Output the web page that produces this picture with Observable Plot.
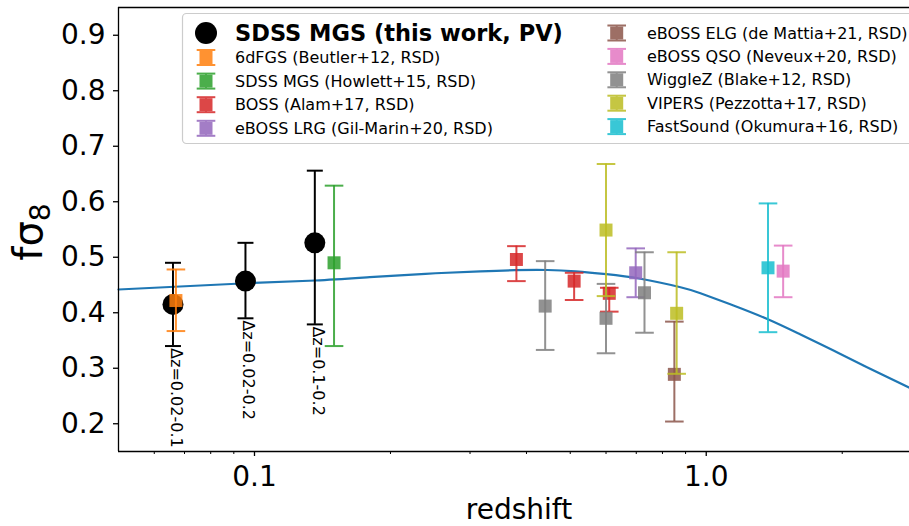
<!DOCTYPE html>
<html>
<head>
<meta charset="utf-8">
<script src="https://cdn.jsdelivr.net/npm/d3@7"></script>
<script src="https://cdn.jsdelivr.net/npm/@observablehq/plot@0.6"></script>
<style>
  html, body { margin: 0; padding: 0; background: #fff; }
  #chart { width: 909px; height: 526px; overflow: hidden; }
  svg { font-family: "DejaVu Sans", sans-serif; }
</style>
</head>
<body>
<div id="chart"></div>
<script>
// fσ8 from SDSS MGS peculiar velocities, three redshift bins
const pvZ = [0.066, 0.0955, 0.136];
const pvF = [0.415, 0.457, 0.526];
const pvLo = [0.340, 0.390, 0.379];
const pvHi = [0.490, 0.526, 0.656];
const pvLabels = ["Δz=0.02-0.1", "Δz=0.02-0.2", "Δz=0.1-0.2"];

// RSD compilation
const rsdSurvey = ["6dFGS", "SDSS MGS", "BOSS", "BOSS", "BOSS", "eBOSS LRG", "eBOSS ELG", "eBOSS QSO",
                   "WiggleZ", "WiggleZ", "WiggleZ", "VIPERS", "VIPERS", "FastSound"];
const rsdZ  = [0.067, 0.15, 0.38, 0.51, 0.61, 0.698, 0.85, 1.48, 0.44, 0.60, 0.73, 0.60, 0.86, 1.37];
const rsdF  = [0.422, 0.490, 0.496, 0.457, 0.435, 0.472, 0.289, 0.475, 0.412, 0.390, 0.436, 0.549, 0.399, 0.481];
const rsdLo = [0.367, 0.340, 0.457, 0.423, 0.402, 0.428, 0.204, 0.428, 0.333, 0.327, 0.364, 0.430, 0.290, 0.365];
const rsdHi = [0.478, 0.629, 0.520, 0.472, 0.445, 0.516, 0.384, 0.521, 0.493, 0.452, 0.509, 0.668, 0.509, 0.597];

// legend entries, in drawing order
const surveys = ["6dFGS", "SDSS MGS", "BOSS", "eBOSS LRG", "eBOSS ELG", "eBOSS QSO", "WiggleZ", "VIPERS", "FastSound"];
const surveyRefs = ["Beutler+12", "Howlett+15", "Alam+17", "Gil-Marin+20", "de Mattia+21", "Neveux+20", "Blake+12", "Pezzotta+17", "Okumura+16"];
const surveyColors = ["#ff7f0e", "#2ca02c", "#d62728", "#9467bd", "#8c564b", "#e377c2", "#7f7f7f", "#bcbd22", "#17becf"];
const pvLegend = "SDSS MGS (this work, PV)";

// fiducial ΛCDM prediction
const modelZ = [0.05, 0.096, 0.1365, 0.18, 0.239, 0.316, 0.377, 0.445, 0.514, 0.601, 0.715, 0.877, 0.971, 1.149, 1.373, 1.617, 1.913, 2.275, 2.818];
const modelF = [0.4419, 0.4532, 0.4581, 0.4641, 0.4702, 0.4747, 0.4767, 0.4770, 0.4746, 0.4695, 0.4612, 0.4460, 0.4352, 0.4131, 0.3878, 0.3608, 0.3320, 0.3014, 0.2648];

// axes
const xDomain = [0.05, 2.818];
const yDomain = [0.15, 0.95];
const xMajor = [0.1, 1];
const xMajorLabels = ["0.1", "1.0"];
const xMinor = [0.06, 0.07, 0.08, 0.09, 0.2, 0.3, 0.4, 0.5, 0.6, 0.7, 0.8, 0.9, 2];
const yTicks = [0.2, 0.3, 0.4, 0.5, 0.6, 0.7, 0.8, 0.9];
const yTickLabels = ["0.2", "0.3", "0.4", "0.5", "0.6", "0.7", "0.8", "0.9"];

const pv = pvZ.map((z, i) => ({z, f: pvF[i], lo: pvLo[i], hi: pvHi[i], label: pvLabels[i]}));
const rsd = rsdZ.map((z, i) => ({z, f: rsdF[i], lo: rsdLo[i], hi: rsdHi[i], survey: rsdSurvey[i]}));
const model = modelZ.map((z, i) => ({z, f: modelF[i]}));
const xLabelRows = xMajor.map((z, i) => ({z, label: xMajorLabels[i]}));

// horizontal error-bar cap drawn as a dot symbol; half-width equals r
const cap = {draw(ctx, size) { const w = Math.sqrt(size / Math.PI); ctx.moveTo(-w, 0); ctx.lineTo(w, 0); }};
const alpha = 0.85;

function errorMarks(rows, color, opts) {
  const {capR, lw, symbol, r, op} = opts;
  return [
    Plot.ruleX(rows, {x: "z", y1: "lo", y2: "hi", stroke: color, strokeWidth: lw, opacity: op}),
    Plot.dot(rows, {x: "z", y: "lo", symbol: cap, r: capR, fill: "none", stroke: color, strokeWidth: lw, opacity: op}),
    Plot.dot(rows, {x: "z", y: "hi", symbol: cap, r: capR, fill: "none", stroke: color, strokeWidth: lw, opacity: op}),
    Plot.dot(rows, {x: "z", y: "f", symbol, r, fill: color, stroke: "none", opacity: op})
  ];
}

const plot = Plot.plot({
  width: 909,
  height: 526,
  marginLeft: 118,
  marginRight: 0,
  marginTop: 7,
  marginBottom: 75,
  style: {fontFamily: "DejaVu Sans, sans-serif", background: "#fff", overflow: "visible"},
  x: {type: "log", domain: xDomain},
  y: {domain: yDomain},
  marks: [
    Plot.line(model, {x: "z", y: "f", stroke: "#1f77b4", strokeWidth: 2.2, curve: "natural"}),
    ...errorMarks(pv, "#000", {capR: 8, lw: 2, symbol: "circle", r: 10.5, op: 1}),
    Plot.text(pv, {x: "z", y: "lo", text: "label", rotate: 90, textAnchor: "start", lineAnchor: "middle",
                   dx: 3, dy: 2, fontSize: 16, fill: "#000"}),
    ...surveys.flatMap((s, k) => errorMarks(rsd.filter(d => d.survey === s), surveyColors[k],
                   {capR: 9.3, lw: 2, symbol: "square", r: 7.33, op: alpha})),
    // spines
    Plot.ruleX([xDomain[0]], {stroke: "#000", strokeWidth: 1.3}),
    Plot.ruleY([yDomain[0]], {stroke: "#000", strokeWidth: 1.3}),
    Plot.ruleY([yDomain[1]], {stroke: "#000", strokeWidth: 1.3}),
    Plot.axisY({ticks: yTicks, tickFormat: (d, i) => yTickLabels[i], tickSize: 5, tickPadding: 8,
                fontSize: 28, strokeWidth: 1.3, label: null, fill: "#000"}),
    Plot.axisX({ticks: xMajor, tickFormat: () => "", tickSize: 5, strokeWidth: 1.3, label: null}),
    Plot.axisX({ticks: xMinor, tickFormat: () => "", tickSize: 3, strokeWidth: 1, label: null}),
    Plot.text(xLabelRows, {x: "z", text: "label", frameAnchor: "bottom", lineAnchor: "top", dy: 15,
                           fontSize: 28, fill: "#000"})
  ]
});

document.getElementById("chart").appendChild(plot);

// axis titles
const svg = d3.select(plot);
svg.append("text")
  .attr("x", 519).attr("y", 519)
  .attr("text-anchor", "middle")
  .attr("font-size", 28).attr("fill", "#000")
  .text("redshift");

const yl = svg.append("text")
  .attr("transform", "translate(42,232) rotate(-90)")
  .attr("text-anchor", "middle")
  .attr("font-size", 40).attr("fill", "#000");
yl.append("tspan").text("fσ");
yl.append("tspan").attr("font-size", 28).attr("dy", 8).text("8");

// legend
const lg = svg.append("g").attr("text-anchor", "start");
lg.append("rect")
  .attr("x", 182.5).attr("y", 13.5).attr("width", 760).attr("height", 130).attr("rx", 4)
  .attr("fill", "#fff").attr("fill-opacity", 0.8).attr("stroke", "#cccccc").attr("stroke-width", 1.2);

function legendIcon(g, cx, cy, color) {
  const ic = g.append("g").attr("opacity", alpha);
  ic.append("line").attr("x1", cx).attr("x2", cx).attr("y1", cy - 7.5).attr("y2", cy + 7.5)
    .attr("stroke", color).attr("stroke-width", 2);
  for (const dy of [-7.5, 7.5]) {
    ic.append("line").attr("x1", cx - 9.3).attr("x2", cx + 9.3).attr("y1", cy + dy).attr("y2", cy + dy)
      .attr("stroke", color).attr("stroke-width", 2);
  }
  ic.append("rect").attr("x", cx - 6.5).attr("y", cy - 6.5).attr("width", 13).attr("height", 13).attr("fill", color);
}

lg.append("circle").attr("cx", 206).attr("cy", 33).attr("r", 11).attr("fill", "#000");
lg.append("text").attr("x", 235).attr("y", 33).attr("dominant-baseline", "central").attr("text-anchor", "start")
  .attr("font-size", 22.5).attr("font-weight", "bold").attr("fill", "#000").text(pvLegend);

surveys.forEach((s, k) => {
  const col2 = k >= 4;
  const cx = col2 ? 616.7 : 206;
  const tx = col2 ? 647 : 235;
  const cy = col2 ? 33 + 23.4 * (k - 4) : 57.5 + 23.6 * k;
  legendIcon(lg, cx, cy, surveyColors[k]);
  lg.append("text").attr("x", tx).attr("y", cy).attr("dominant-baseline", "central").attr("text-anchor", "start")
    .attr("font-size", 16).attr("fill", "#000").text(`${s} (${surveyRefs[k]}, RSD)`);
});
</script>
</body>
</html>
